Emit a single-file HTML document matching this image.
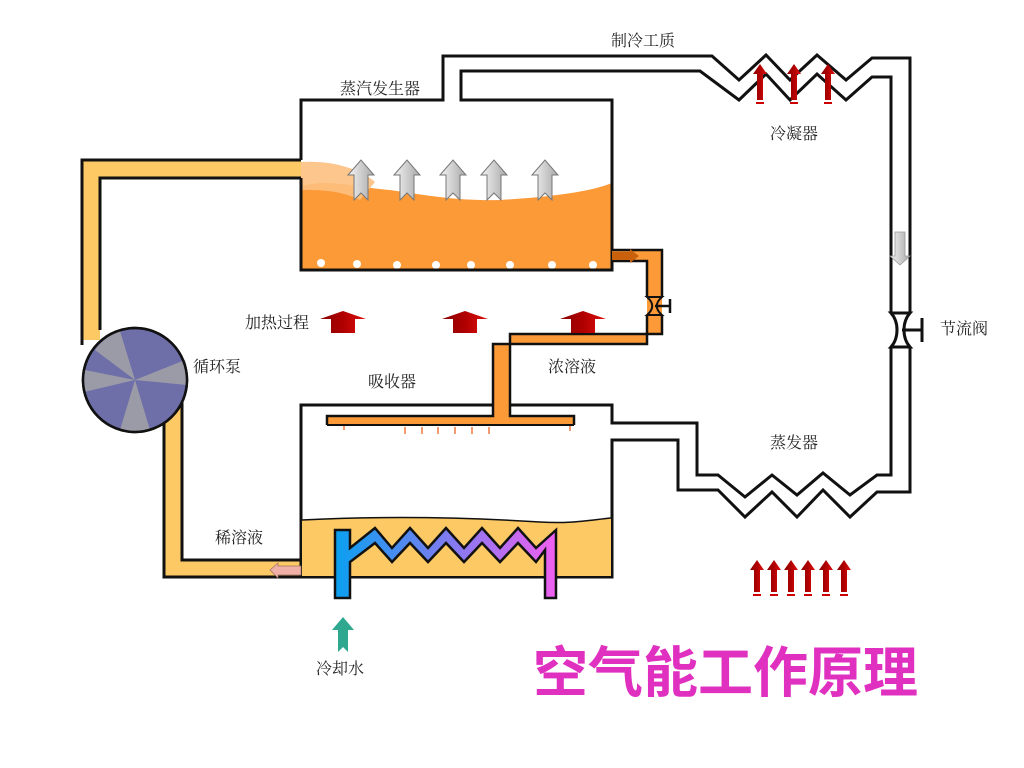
<!DOCTYPE html>
<html><head><meta charset="utf-8"><style>
html,body{margin:0;padding:0;background:#fff;}
svg{display:block}
text{font-family:"Liberation Serif","Noto Serif CJK SC","Noto Sans CJK SC",serif;fill:#222;font-size:16px}
</style></head><body>
<svg width="1024" height="768" viewBox="0 0 1024 768" xmlns="http://www.w3.org/2000/svg">
<defs>
<linearGradient id="coil" x1="0" x2="1" y1="0" y2="0">
<stop offset="0" stop-color="#0aa0f0"/><stop offset="0.5" stop-color="#7c7cf0"/><stop offset="1" stop-color="#f060f0"/>
</linearGradient>
<linearGradient id="red" x1="0" x2="1"><stop offset="0" stop-color="#8a0000"/><stop offset="0.5" stop-color="#b00000"/><stop offset="1" stop-color="#e01010"/></linearGradient>
<linearGradient id="grey" x1="0" x2="1"><stop offset="0" stop-color="#f4f4f4"/><stop offset="1" stop-color="#a8a8a8"/></linearGradient>
<g id="wa"><path d="M-13,0 L0,-15 L13,0 L7,0 L7,25 L0,18 L-7,25 L-7,0 Z" fill="url(#grey)" stroke="#777" stroke-width="1"/></g>
<g id="ra"><path d="M-23,8 L0,0 L23,8 L12,8 L12,22 L-12,22 L-12,8 Z" fill="url(#red)"/></g>
<g id="sa"><path d="M-3,0 L3,0 L3,-22 L7,-22 L0,-32 L-7,-22 L-3,-22 Z" fill="url(#red)"/><rect x="-4" y="2" width="8" height="2" fill="#c00"/></g>
<g id="sb"><path d="M-3,0 L3,0 L3,-26 L7,-26 L0,-36 L-7,-26 L-3,-26 Z" fill="url(#red)"/><rect x="-4" y="2" width="8" height="2" fill="#c00"/></g>
</defs>

<path d="M82,160 L301,160 L301,178 L100,178 L100,340 L82,340 Z" fill="#fcc964"/>
<path d="M164,395 L182,395 L182,560 L301,560 L301,577 L164,577 Z" fill="#fcc964"/>
<path d="M301,160 L82,160 L82,345 M100,330 L100,178 L301,178" fill="none" stroke="#111" stroke-width="3"/>
<path d="M164,400 L164,577 L301,577 M182,400 L182,560 L301,560" fill="none" stroke="#111" stroke-width="3"/>

<path d="M301,186 C330,178 360,188 390,190 C430,196 460,201 500,200 C550,197 590,192 612,183 L612,270 L301,270 Z" fill="#fc9a38"/>
<path d="M301,162 C330,160 360,168 375,182 L360,200 C340,190 320,190 301,190 Z" fill="#fdc080" opacity="0.9"/>
<g fill="#fff"><circle cx="321" cy="263" r="4"/><circle cx="357" cy="264" r="4"/><circle cx="397" cy="265" r="4"/><circle cx="436" cy="265" r="4"/><circle cx="471" cy="265" r="4"/><circle cx="510" cy="265" r="4"/><circle cx="552" cy="265" r="4"/><circle cx="593" cy="265" r="4"/></g>
<path d="M301,160 L301,100 L443,100 L443,56 L712,56 L739,80 L766,55 L790,80 L817,55 L846,80 L872,58 L910,58 L910,313" fill="none" stroke="#111" stroke-width="3"/>
<path d="M301,178 L301,270 L612,270 L612,100 L461,100 L461,71 L700,71 L739,100 L766,74 L790,100 L817,74 L846,100 L872,77 L891,77 L891,313" fill="none" stroke="#111" stroke-width="3"/>
<path d="M891,313 L910,313 C902,322 902,338 910,347 L891,347 C899,338 899,322 891,313 Z" fill="#fff" stroke="#111" stroke-width="3"/>
<path d="M902,330 L922,330 M922,318 L922,342" stroke="#111" stroke-width="3"/>
<path d="M891,347 L891,475 L877,475 L850,495 L823,473 L797,495 L772,475 L745,497 L718,475 L697,475 L697,423 L612,423 L612,405 L301,405 L301,577 L612,577 L612,440 L678,440 L678,490 L718,490 L745,517 L772,492 L797,517 L823,490 L850,517 L877,492 L910,492 L910,347" fill="none" stroke="#111" stroke-width="3"/>

<path d="M302,520 C380,516 460,517 540,522 C570,524 590,520 611,518 L611,576 L302,576 Z" fill="#fcc964"/>
<path d="M302,520 C380,516 460,517 540,522 C570,524 590,520 611,518" fill="none" stroke="#111" stroke-width="1.5"/>
<path d="M335,530 L350,530 L350,548 L375,528 L392,548 L410,528 L428,548 L446,528 L464,548 L482,528 L500,548 L518,528 L536,548 L556,530 L556,598 L545,598 L545,550 L536,562 L518,543 L500,562 L482,543 L464,562 L446,543 L428,562 L410,543 L392,562 L375,543 L350,562 L350,598 L335,598 Z" fill="url(#coil)" stroke="#111" stroke-width="2.5"/>
<path d="M270,570 L278,563 L278,566 L301,566 L301,575 L278,575 L278,578 Z" fill="#f0b0a8" stroke="#a07060" stroke-width="0.7"/>

<path d="M612,250 L662,250 L662,334 L510,334 L510,416 L574,416 L574,425 L327,425 L327,416 L493,416 L493,344 L647,344 L647,261 L612,261 Z" fill="#fc9a38"/>
<path d="M612,250 L662,250 L662,297 M662,315 L662,334 L510,334 L510,416 L574,416 L574,425 M327,425 L327,416 L493,416 L493,344 L647,344 L647,315 M647,297 L647,261 L612,261" fill="none" stroke="#111" stroke-width="2.5"/>
<path d="M327,425 L574,425" stroke="#111" stroke-width="2"/>
<path d="M647,297 L662,297 C655,303 655,309 662,315 L647,315 C654,309 654,303 647,297 Z" fill="#fc9a38" stroke="#111" stroke-width="2"/>
<path d="M655,306 L670,306 M670,299 L670,313" stroke="#111" stroke-width="2.5"/>
<path d="M612,252 L630,252 L630,249 L639,256 L630,263 L630,260 L612,260 Z" fill="#c8600c"/>
<g stroke="#f07840" stroke-width="1.5"><line x1="405" y1="427" x2="405" y2="434"/><line x1="422" y1="427" x2="422" y2="434"/><line x1="438" y1="427" x2="438" y2="434"/><line x1="455" y1="427" x2="455" y2="434"/><line x1="472" y1="427" x2="472" y2="434"/><line x1="489" y1="427" x2="489" y2="434"/><line x1="344" y1="426" x2="344" y2="430"/><line x1="570" y1="426" x2="570" y2="431"/></g>

<circle cx="135" cy="380" r="52" fill="#6e6ea8" stroke="#111" stroke-width="2.5"/>
<g fill="#a0a0a8" opacity="0.9">
<path d="M135,380 L95,350 A52,52 0 0,1 120,331 Z"/>
<path d="M135,380 L185,360 A52,52 0 0,1 187,385 Z"/>
<path d="M135,380 L150,430 A52,52 0 0,1 120,430 Z"/>
<path d="M135,380 L84,392 A52,52 0 0,1 85,370 Z"/>
</g>
<circle cx="135" cy="380" r="52" fill="none" stroke="#111" stroke-width="2.5"/>

<use href="#wa" x="361" y="175"/><use href="#wa" x="407" y="175"/><use href="#wa" x="453" y="175"/><use href="#wa" x="494" y="175"/><use href="#wa" x="545" y="175"/>
<path d="M895,232 L905,232 L905,256 L910,256 L900,265 L890,256 L895,256 Z" fill="url(#grey)" stroke="#999" stroke-width="0.8"/>
<use href="#ra" x="343" y="311"/><use href="#ra" x="465" y="311"/><use href="#ra" x="583" y="311"/>
<use href="#sb" x="760" y="100"/><use href="#sb" x="794" y="100"/><use href="#sb" x="828" y="100"/>
<use href="#sa" x="757" y="592"/><use href="#sa" x="774" y="592"/><use href="#sa" x="791" y="592"/><use href="#sa" x="808" y="592"/><use href="#sa" x="826" y="592"/><use href="#sa" x="844" y="592"/>
<path d="M343,617 L354,630 L348,630 L348,652 L343,647 L338,652 L338,630 L332,630 Z" fill="#30a890"/>

<text x="340" y="94">蒸汽发生器</text>
<text x="611" y="46">制冷工质</text>
<text x="770" y="139">冷凝器</text>
<text x="940" y="334">节流阀</text>
<text x="770" y="448">蒸发器</text>
<text x="193" y="372">循环泵</text>
<text x="368" y="387">吸收器</text>
<text x="548" y="372">浓溶液</text>
<text x="245" y="328">加热过程</text>
<text x="215" y="543">稀溶液</text>
<text x="316" y="674">冷却水</text>
<text x="533" y="692" style="font-family:'Liberation Sans','Noto Sans CJK SC',sans-serif;font-size:55px;font-weight:bold;fill:#e030c0">空气能工作原理</text>
</svg>
</body></html>
